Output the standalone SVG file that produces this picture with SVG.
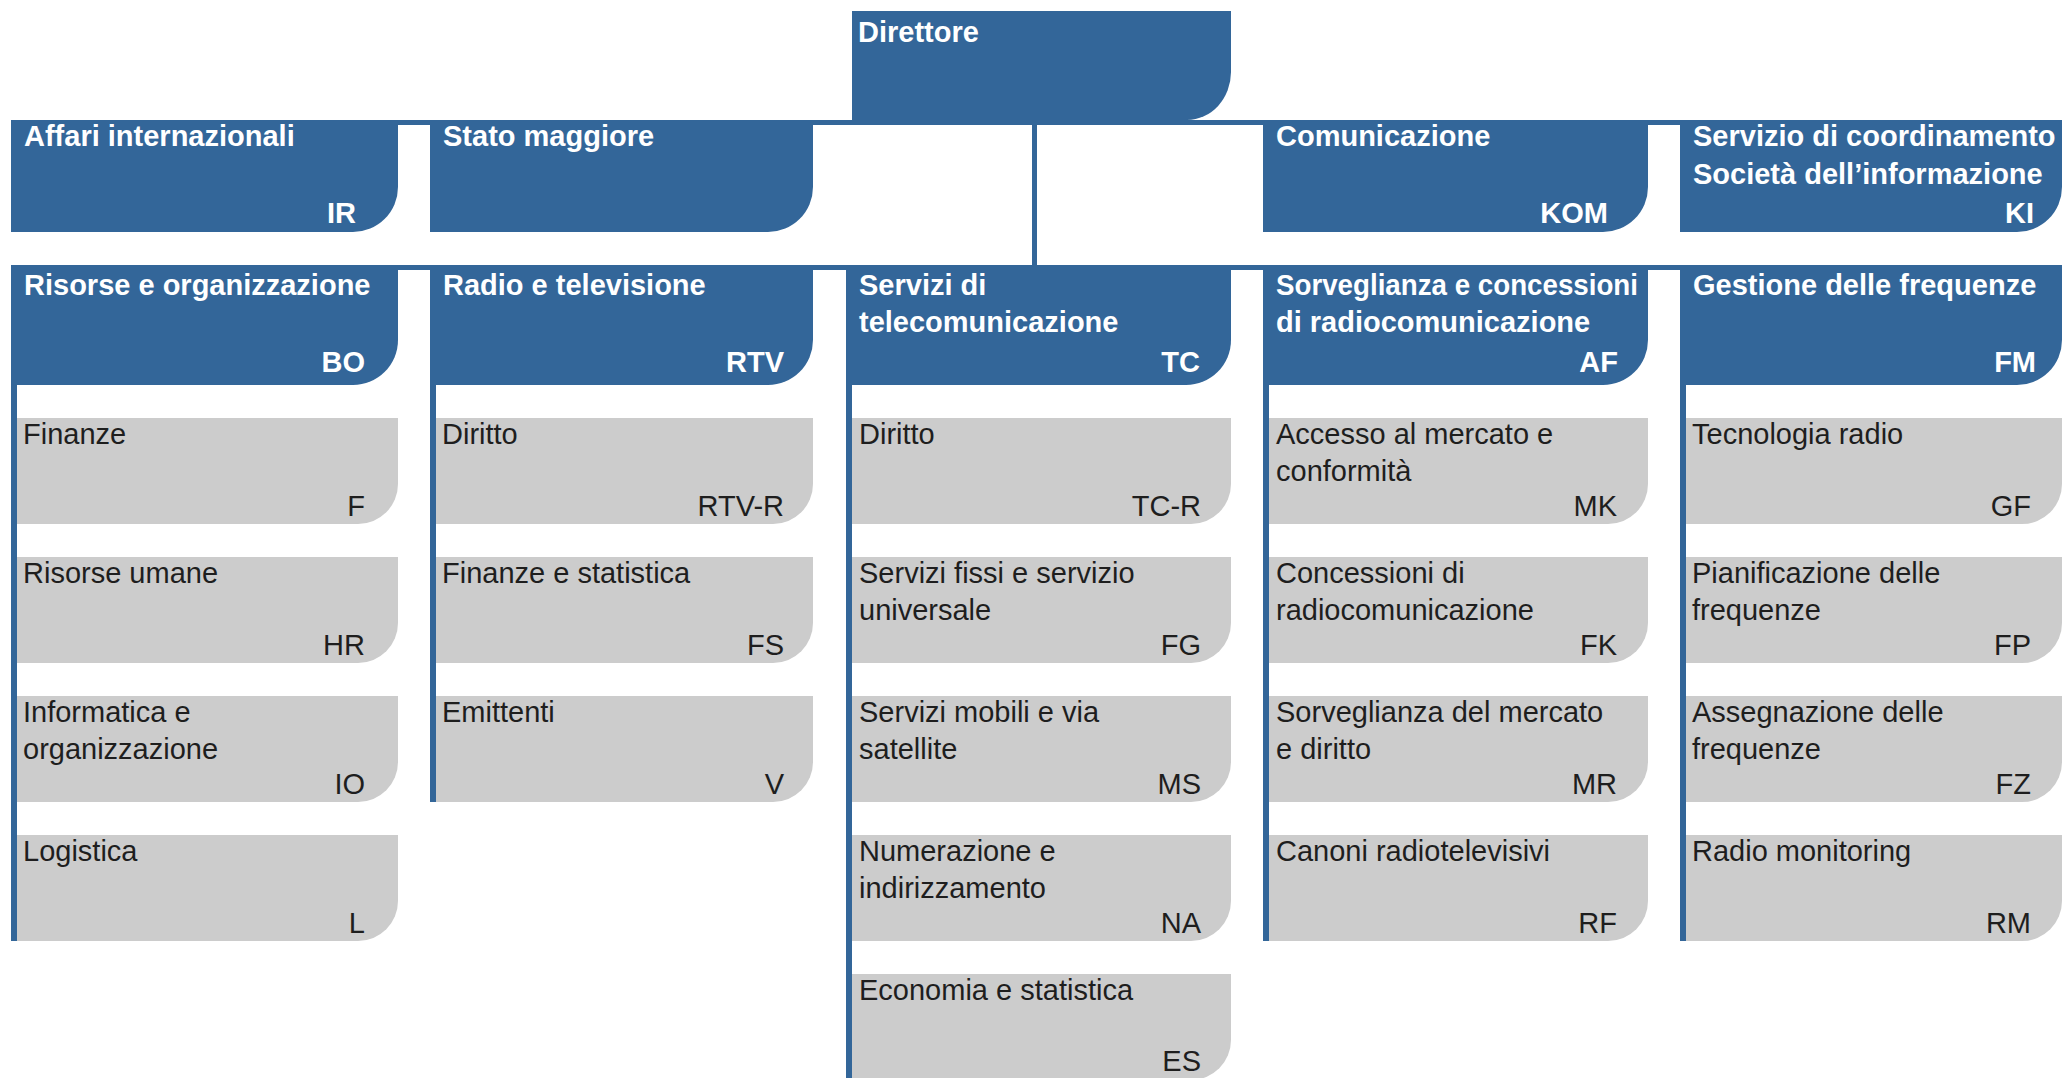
<svg xmlns="http://www.w3.org/2000/svg" width="2062" height="1078" viewBox="0 0 2062 1078">
  <style>
    .blue { fill: #336699; }
    .grey { fill: #cccccc; }
    .bar { fill: #336699; }
    .ht { font-family: "Liberation Sans", Arial, sans-serif; font-weight: bold; font-size: 29px; fill: #ffffff; }
    .gt { font-family: "Liberation Sans", Arial, sans-serif; font-size: 29px; fill: #1e1e1e; }
    .end { text-anchor: end; }
  </style>

  <!-- connector lines: horizontal bars and column spines -->
  <g id="connectors">
    <rect class="bar" x="11" y="120" width="2051" height="5"/>
    <rect class="bar" x="1032" y="120" width="5" height="150"/>
    <rect class="bar" x="11" y="265" width="2051" height="5"/>
    <rect class="bar" x="11" y="380" width="6" height="561"/>
    <rect class="bar" x="430" y="380" width="6" height="422"/>
    <rect class="bar" x="846" y="380" width="6" height="698"/>
    <rect class="bar" x="1263" y="380" width="6" height="561"/>
    <rect class="bar" x="1680" y="380" width="6" height="561"/>
  </g>

  <!-- top level -->
  <g id="direttore">
    <path class="blue" d="M852,11 H1231 V72 A44,48 0 0 1 1187,120 H852 Z"/>
    <text class="ht" x="858" y="42">Direttore</text>
  </g>

  <!-- staff units -->
  <g id="ir">
    <path class="blue" d="M11,120 H398 V187 A45,45 0 0 1 353,232 H11 Z"/>
    <text class="ht" x="24" y="146">Affari internazionali</text>
    <text class="ht end" x="356" y="223">IR</text>
  </g>
  <g id="stato-maggiore">
    <path class="blue" d="M430,120 H813 V187 A45,45 0 0 1 768,232 H430 Z"/>
    <text class="ht" x="443" y="146">Stato maggiore</text>
  </g>
  <g id="kom">
    <path class="blue" d="M1263,120 H1648 V187 A45,45 0 0 1 1603,232 H1263 Z"/>
    <text class="ht" x="1276" y="146">Comunicazione</text>
    <text class="ht end" x="1608" y="223">KOM</text>
  </g>
  <g id="ki">
    <path class="blue" d="M1680,120 H2062 V187 A45,45 0 0 1 2017,232 H1680 Z"/>
    <text class="ht" x="1693" y="146">Servizio di coordinamento</text>
    <text class="ht" x="1693" y="184">Società dell’informazione</text>
    <text class="ht end" x="2034" y="223">KI</text>
  </g>

  <!-- divisions -->
  <g id="bo">
    <path class="blue" d="M11,265 H398 V340 A45,45 0 0 1 353,385 H11 Z"/>
    <text class="ht" x="24" y="295">Risorse e organizzazione</text>
    <text class="ht end" x="365" y="372">BO</text>
  </g>
  <g id="rtv">
    <path class="blue" d="M430,265 H813 V340 A45,45 0 0 1 768,385 H430 Z"/>
    <text class="ht" x="443" y="295">Radio e televisione</text>
    <text class="ht end" x="784" y="372">RTV</text>
  </g>
  <g id="tc">
    <path class="blue" d="M846,265 H1231 V340 A45,45 0 0 1 1186,385 H846 Z"/>
    <text class="ht" x="859" y="295">Servizi di</text>
    <text class="ht" x="859" y="332">telecomunicazione</text>
    <text class="ht end" x="1200" y="372">TC</text>
  </g>
  <g id="af">
    <path class="blue" d="M1263,265 H1648 V340 A45,45 0 0 1 1603,385 H1263 Z"/>
    <text class="ht" x="1276" y="295" textLength="362" lengthAdjust="spacingAndGlyphs">Sorveglianza e concessioni</text>
    <text class="ht" x="1276" y="332">di radiocomunicazione</text>
    <text class="ht end" x="1618" y="372">AF</text>
  </g>
  <g id="fm">
    <path class="blue" d="M1680,265 H2062 V340 A45,45 0 0 1 2017,385 H1680 Z"/>
    <text class="ht" x="1693" y="295">Gestione delle frequenze</text>
    <text class="ht end" x="2036" y="372">FM</text>
  </g>

  <!-- sections: column 1 -->
  <g id="f">
    <path class="grey" d="M17,418 H398 V484 A40,40 0 0 1 358,524 H17 Z"/>
    <text class="gt" x="23" y="444">Finanze</text>
    <text class="gt end" x="365" y="516">F</text>
  </g>
  <g id="hr">
    <path class="grey" d="M17,557 H398 V623 A40,40 0 0 1 358,663 H17 Z"/>
    <text class="gt" x="23" y="583">Risorse umane</text>
    <text class="gt end" x="365" y="655">HR</text>
  </g>
  <g id="io">
    <path class="grey" d="M17,696 H398 V762 A40,40 0 0 1 358,802 H17 Z"/>
    <text class="gt" x="23" y="722">Informatica e</text>
    <text class="gt" x="23" y="759">organizzazione</text>
    <text class="gt end" x="365" y="794">IO</text>
  </g>
  <g id="l">
    <path class="grey" d="M17,835 H398 V901 A40,40 0 0 1 358,941 H17 Z"/>
    <text class="gt" x="23" y="861">Logistica</text>
    <text class="gt end" x="365" y="933">L</text>
  </g>

  <!-- sections: column 2 -->
  <g id="rtv-r">
    <path class="grey" d="M436,418 H813 V484 A40,40 0 0 1 773,524 H436 Z"/>
    <text class="gt" x="442" y="444">Diritto</text>
    <text class="gt end" x="784" y="516">RTV-R</text>
  </g>
  <g id="fs">
    <path class="grey" d="M436,557 H813 V623 A40,40 0 0 1 773,663 H436 Z"/>
    <text class="gt" x="442" y="583">Finanze e statistica</text>
    <text class="gt end" x="784" y="655">FS</text>
  </g>
  <g id="v">
    <path class="grey" d="M436,696 H813 V762 A40,40 0 0 1 773,802 H436 Z"/>
    <text class="gt" x="442" y="722">Emittenti</text>
    <text class="gt end" x="784" y="794">V</text>
  </g>

  <!-- sections: column 3 -->
  <g id="tc-r">
    <path class="grey" d="M852,418 H1231 V484 A40,40 0 0 1 1191,524 H852 Z"/>
    <text class="gt" x="859" y="444">Diritto</text>
    <text class="gt end" x="1201" y="516">TC-R</text>
  </g>
  <g id="fg">
    <path class="grey" d="M852,557 H1231 V623 A40,40 0 0 1 1191,663 H852 Z"/>
    <text class="gt" x="859" y="583">Servizi fissi e servizio</text>
    <text class="gt" x="859" y="620">universale</text>
    <text class="gt end" x="1201" y="655">FG</text>
  </g>
  <g id="ms">
    <path class="grey" d="M852,696 H1231 V762 A40,40 0 0 1 1191,802 H852 Z"/>
    <text class="gt" x="859" y="722">Servizi mobili e via</text>
    <text class="gt" x="859" y="759">satellite</text>
    <text class="gt end" x="1201" y="794">MS</text>
  </g>
  <g id="na">
    <path class="grey" d="M852,835 H1231 V901 A40,40 0 0 1 1191,941 H852 Z"/>
    <text class="gt" x="859" y="861">Numerazione e</text>
    <text class="gt" x="859" y="898">indirizzamento</text>
    <text class="gt end" x="1201" y="933">NA</text>
  </g>
  <g id="es">
    <path class="grey" d="M852,974 H1231 V1040 A40,40 0 0 1 1191,1080 H852 Z"/>
    <text class="gt" x="859" y="1000">Economia e statistica</text>
    <text class="gt end" x="1201" y="1071">ES</text>
  </g>

  <!-- sections: column 4 -->
  <g id="mk">
    <path class="grey" d="M1269,418 H1648 V484 A40,40 0 0 1 1608,524 H1269 Z"/>
    <text class="gt" x="1276" y="444">Accesso al mercato e</text>
    <text class="gt" x="1276" y="481">conformità</text>
    <text class="gt end" x="1617" y="516">MK</text>
  </g>
  <g id="fk">
    <path class="grey" d="M1269,557 H1648 V623 A40,40 0 0 1 1608,663 H1269 Z"/>
    <text class="gt" x="1276" y="583">Concessioni di</text>
    <text class="gt" x="1276" y="620">radiocomunicazione</text>
    <text class="gt end" x="1617" y="655">FK</text>
  </g>
  <g id="mr">
    <path class="grey" d="M1269,696 H1648 V762 A40,40 0 0 1 1608,802 H1269 Z"/>
    <text class="gt" x="1276" y="722">Sorveglianza del mercato</text>
    <text class="gt" x="1276" y="759">e diritto</text>
    <text class="gt end" x="1617" y="794">MR</text>
  </g>
  <g id="rf">
    <path class="grey" d="M1269,835 H1648 V901 A40,40 0 0 1 1608,941 H1269 Z"/>
    <text class="gt" x="1276" y="861">Canoni radiotelevisivi</text>
    <text class="gt end" x="1617" y="933">RF</text>
  </g>

  <!-- sections: column 5 -->
  <g id="gf">
    <path class="grey" d="M1686,418 H2062 V484 A40,40 0 0 1 2022,524 H1686 Z"/>
    <text class="gt" x="1692" y="444">Tecnologia radio</text>
    <text class="gt end" x="2031" y="516">GF</text>
  </g>
  <g id="fp">
    <path class="grey" d="M1686,557 H2062 V623 A40,40 0 0 1 2022,663 H1686 Z"/>
    <text class="gt" x="1692" y="583">Pianificazione delle</text>
    <text class="gt" x="1692" y="620">frequenze</text>
    <text class="gt end" x="2031" y="655">FP</text>
  </g>
  <g id="fz">
    <path class="grey" d="M1686,696 H2062 V762 A40,40 0 0 1 2022,802 H1686 Z"/>
    <text class="gt" x="1692" y="722">Assegnazione delle</text>
    <text class="gt" x="1692" y="759">frequenze</text>
    <text class="gt end" x="2031" y="794">FZ</text>
  </g>
  <g id="rm">
    <path class="grey" d="M1686,835 H2062 V901 A40,40 0 0 1 2022,941 H1686 Z"/>
    <text class="gt" x="1692" y="861">Radio monitoring</text>
    <text class="gt end" x="2031" y="933">RM</text>
  </g>
</svg>
